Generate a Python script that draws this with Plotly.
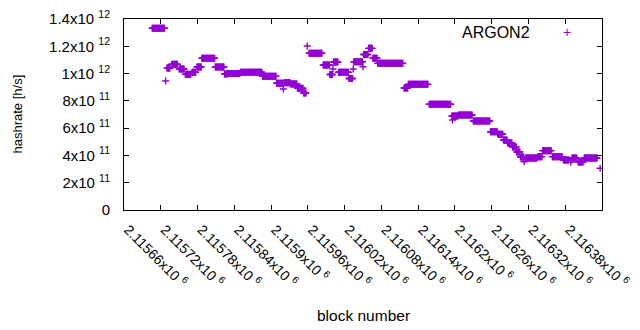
import plotly.graph_objects as go

# Hashrate runs: constant value between start and end block (inclusive)
run_start = [2115706, 2115728, 2115730, 2115738, 2115750, 2115760, 2115771, 2115779,
             2115787, 2115809, 2115824, 2115829, 2115850, 2115886, 2115909, 2115920,
             2115921, 2115932, 2115943, 2115953, 2115959, 2115962, 2115985, 2115996,
             2116001, 2116002, 2116010, 2116027, 2116034, 2116035, 2116050, 2116051,
             2116059, 2116066, 2116074, 2116117, 2116124, 2116158, 2116195, 2116196,
             2116206, 2116230, 2116258, 2116270, 2116279, 2116286, 2116294, 2116301,
             2116307, 2116313, 2116315, 2116335, 2116343, 2116359, 2116377, 2116389,
             2116391, 2116401, 2116411, 2116437]
run_end = [2115726, 2115728, 2115735, 2115747, 2115758, 2115769, 2115777, 2115786,
           2115808, 2115823, 2115828, 2115849, 2115885, 2115908, 2115919, 2115920,
           2115931, 2115942, 2115952, 2115957, 2115959, 2115983, 2115995, 2116000,
           2116001, 2116009, 2116026, 2116033, 2116034, 2116049, 2116050, 2116058,
           2116065, 2116073, 2116115, 2116123, 2116156, 2116193, 2116205, 2116196,
           2116228, 2116257, 2116269, 2116278, 2116285, 2116293, 2116300, 2116306,
           2116312, 2116313, 2116334, 2116342, 2116357, 2116375, 2116386, 2116389,
           2116399, 2116409, 2116432, 2116437]
run_value = [1.332e12, 9.46e11, 1.04e12, 1.068e12, 1.034e12, 9.95e11, 1.01e12, 1.048e12,
             1.112e12, 1.048e12, 9.97e11, 1.0e12, 1.01e12, 9.8e11, 9.29e11, 8.87e11,
             9.33e11, 9.24e11, 8.92e11, 8.58e11, 1.202e12, 1.149e12, 1.063e12, 9.93e11,
             1.034e12, 1.085e12, 1.01e12, 9.64e11, 1.034e12, 1.087e12, 1.05e12, 1.14e12,
             1.185e12, 1.112e12, 1.075e12, 8.94e11, 9.21e11, 7.75e11, 6.89e11, 6.6e11,
             6.96e11, 6.52e11, 5.74e11, 5.55e11, 5.13e11, 4.91e11, 4.62e11, 4.25e11,
             3.88e11, 3.54e11, 3.81e11, 3.91e11, 4.35e11, 3.91e11, 3.67e11, 3.5e11,
             3.81e11, 3.52e11, 3.81e11, 3.06e11]

x_tick_vals = [2115660, 2115720, 2115780, 2115840, 2115900, 2115960, 2116020,
               2116080, 2116140, 2116200, 2116260, 2116320, 2116380, 2116440]
x_tick_text = ["2.11566x10 <sup>6</sup>", "2.11572x10 <sup>6</sup>", "2.11578x10 <sup>6</sup>",
               "2.11584x10 <sup>6</sup>", "2.1159x10 <sup>6</sup>", "2.11596x10 <sup>6</sup>",
               "2.11602x10 <sup>6</sup>", "2.11608x10 <sup>6</sup>", "2.11614x10 <sup>6</sup>",
               "2.1162x10 <sup>6</sup>", "2.11626x10 <sup>6</sup>", "2.11632x10 <sup>6</sup>",
               "2.11638x10 <sup>6</sup>", "2.11644x10 <sup>6</sup>"]
y_tick_vals = [0, 2e11, 4e11, 6e11, 8e11, 1e12, 1.2e12, 1.4e12]
y_tick_text = ["0", "2x10 <sup>11</sup>", "4x10 <sup>11</sup>", "6x10 <sup>11</sup>",
               "8x10 <sup>11</sup>", "1x10 <sup>12</sup>", "1.2x10 <sup>12</sup>",
               "1.4x10 <sup>12</sup>"]

xs, ys = [], []
for s, e, v in zip(run_start, run_end, run_value):
    for b in range(s, e + 1):
        xs.append(b)
        ys.append(v)

COLOR = "#9400d3"
FONT = "Liberation Sans, Arial, sans-serif"

fig = go.Figure()
fig.add_trace(go.Scatter(
    x=xs, y=ys, mode="markers", name="ARGON2", showlegend=False,
    marker=dict(symbol="cross-thin", size=5, color=COLOR,
                line=dict(color=COLOR, width=1.4)),
))

fig.update_layout(
    width=640, height=330,
    margin=dict(l=124, r=38, t=19, b=120, autoexpand=False),
    paper_bgcolor="white", plot_bgcolor="white",
    font=dict(family=FONT, size=15, color="black"),
    showlegend=False,
)
fig.update_xaxes(
    range=[2115660, 2116440], tickmode="array", tickvals=x_tick_vals, ticktext=x_tick_text,
    tickangle=45, ticks="inside", ticklen=5, tickcolor="black",
    showline=True, linecolor="black", linewidth=1, mirror="ticks",
    showgrid=False, zeroline=False, tickfont=dict(size=14), automargin=False,
    ticklabelstandoff=5, ticklabelshift=4,
)
fig.update_yaxes(
    range=[0, 1.4e12], tickmode="array", tickvals=y_tick_vals, ticktext=y_tick_text,
    ticks="inside", ticklen=5, tickcolor="black",
    showline=True, linecolor="black", linewidth=1, mirror="ticks",
    showgrid=False, zeroline=False, tickfont=dict(size=15), ticklabelstandoff=10,
    automargin=False,
)

fig.add_annotation(text="hashrate [h/s]", xref="paper", yref="paper",
                   x=(17 - 124) / 478, y=0.5, textangle=-90, showarrow=False,
                   font=dict(size=13), xanchor="center", yanchor="middle")
fig.add_annotation(text="block number", xref="paper", yref="paper",
                   x=0.5, y=(210 - 315) / 191, showarrow=False,
                   font=dict(size=15.5), xanchor="center", yanchor="middle")
fig.add_annotation(text="ARGON2", xref="paper", yref="paper",
                   x=(532 - 124) / 478, y=(210 - 32) / 191, showarrow=False,
                   font=dict(size=16), xanchor="right", yanchor="middle")
fig.add_annotation(text="+", xref="paper", yref="paper",
                   x=(567 - 124) / 478, y=(210 - 32) / 191, showarrow=False,
                   font=dict(size=14, color=COLOR), xanchor="center", yanchor="middle")

fig.write_html("out.html", config={"displayModeBar": False},
               post_script="document.body.style.margin='0px';")
